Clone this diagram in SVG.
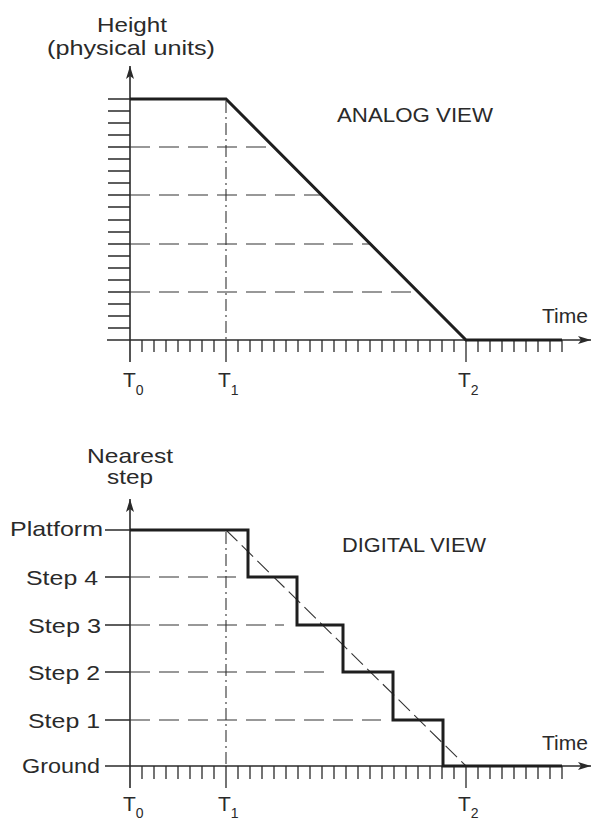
<svg xmlns="http://www.w3.org/2000/svg" width="602" height="824" viewBox="0 0 602 824">
<style>
.bg{fill:#fff}
.ax{stroke:#2a2a2a;stroke-width:1.6;fill:none}
.tk{stroke:#2a2a2a;stroke-width:1.3;fill:none}
.thick{stroke:#1e1e1e;stroke-width:3;fill:none;stroke-linejoin:miter}
.dash{stroke:#333;stroke-width:1.2;fill:none;stroke-dasharray:20 9}
.dd{stroke:#333;stroke-width:1.1;fill:none;stroke-dasharray:12 4 2 4}
.diag{stroke:#333;stroke-width:1.1;fill:none;stroke-dasharray:16 6}
text{font-family:"Liberation Sans","DejaVu Sans",sans-serif;fill:#2a2a2a}
.lab{font-size:21px}
.sub{font-size:14px}
</style>
<defs>
<marker id="arr" markerWidth="14" markerHeight="10" refX="13" refY="5" orient="auto" markerUnits="userSpaceOnUse">
<path d="M0 1 L13 5 L0 9 L3 5 Z" fill="#2a2a2a"/>
</marker>
</defs>
<rect class="bg" x="0" y="0" width="602" height="824"/>

<g id="analog-chart">
<g id="analog-axes">
<line class="ax" x1="130" y1="362" x2="130" y2="66" marker-end="url(#arr)"/>
<line class="ax" x1="107" y1="340" x2="591" y2="340" marker-end="url(#arr)"/>
<path class="tk" d="M108 99H130M108 111H130M108 123H130M108 135H130M108 147H130M108 159H130M108 171H130M108 183H130M108 195H130M108 207H130M108 220H130M108 232H130M108 244H130M108 256H130M108 268H130M108 280H130M108 292H130M108 304H130M108 316H130M108 328H130"/>
<path class="tk" d="M142 340v12M154 340v12M166 340v12M178 340v12M190 340v12M202 340v12M214 340v12M226 340v22M238 340v12M250 340v12M262 340v12M274 340v12M286 340v12M298 340v12M310 340v12M322 340v12M334 340v12M346 340v12M358 340v12M370 340v12M382 340v12M394 340v12M406 340v12M418 340v12M430 340v12M442 340v12M454 340v12M466 340v22M478 340v12M490 340v12M502 340v12M514 340v12M526 340v12M538 340v12M550 340v12M562 340v12"/>
</g>
<g id="analog-guides">
<line class="dd" x1="226" y1="101" x2="226" y2="340"/>
<path class="dash" d="M130 147H274M130 195H322M130 244H370M130 292H418"/>
</g>
<path id="analog-curve" class="thick" d="M130 99H226L466 340H562"/>
<g id="analog-labels">
<text class="lab" x="97" y="32" font-size="22" textLength="70" lengthAdjust="spacingAndGlyphs">Height</text>
<text class="lab" x="47" y="55" font-size="22" textLength="168" lengthAdjust="spacingAndGlyphs">(physical units)</text>
<text class="lab" x="337" y="122" textLength="156" lengthAdjust="spacingAndGlyphs">ANALOG VIEW</text>
<text class="lab" x="542" y="323" textLength="46" lengthAdjust="spacingAndGlyphs">Time</text>
<text class="lab" x="123" y="387">T<tspan class="sub" dy="8">0</tspan></text>
<text class="lab" x="218" y="387">T<tspan class="sub" dy="8">1</tspan></text>
<text class="lab" x="458" y="387">T<tspan class="sub" dy="8">2</tspan></text>
</g>
</g>

<g id="digital-chart">
<g id="digital-axes">
<line class="ax" x1="130" y1="788" x2="130" y2="499" marker-end="url(#arr)"/>
<line class="ax" x1="105" y1="766" x2="591" y2="766" marker-end="url(#arr)"/>
<path class="ax" d="M105 530H130M105 577H130M105 625H130M105 672H130M105 720H130"/>
<path class="tk" d="M142 766v13M154 766v13M166 766v13M178 766v13M190 766v13M202 766v13M214 766v13M226 766v22M238 766v13M250 766v13M262 766v13M274 766v13M286 766v13M298 766v13M310 766v13M322 766v13M334 766v13M346 766v13M358 766v13M370 766v13M382 766v13M394 766v13M406 766v13M418 766v13M430 766v13M442 766v13M454 766v13M466 766v22M478 766v13M490 766v13M502 766v13M514 766v13M526 766v13M538 766v13M550 766v13M562 766v13"/>
</g>
<g id="digital-guides">
<line class="dd" x1="226" y1="532" x2="226" y2="766"/>
<path class="dash" d="M130 577H236M130 625H284M130 672H333M130 720H381"/>
<line class="diag" x1="226" y1="530" x2="466" y2="766"/>
</g>
<path id="digital-steps" class="thick" d="M130 530H248V577H297V625H343V672H393V720H443V766H562"/>
<g id="digital-labels">
<text class="lab" x="87" y="463" font-size="20" textLength="86" lengthAdjust="spacingAndGlyphs">Nearest</text>
<text class="lab" x="107" y="484" font-size="20" textLength="46" lengthAdjust="spacingAndGlyphs">step</text>
<text class="lab" x="10" y="536" textLength="93" lengthAdjust="spacingAndGlyphs">Platform</text>
<text class="lab" x="26" y="585" textLength="72" lengthAdjust="spacingAndGlyphs">Step 4</text>
<text class="lab" x="28" y="633" textLength="73" lengthAdjust="spacingAndGlyphs">Step 3</text>
<text class="lab" x="28" y="680" textLength="72" lengthAdjust="spacingAndGlyphs">Step 2</text>
<text class="lab" x="28" y="728" textLength="72" lengthAdjust="spacingAndGlyphs">Step 1</text>
<text class="lab" x="22" y="773" textLength="78" lengthAdjust="spacingAndGlyphs">Ground</text>
<text class="lab" x="342" y="552" textLength="144" lengthAdjust="spacingAndGlyphs">DIGITAL VIEW</text>
<text class="lab" x="542" y="750" textLength="46" lengthAdjust="spacingAndGlyphs">Time</text>
<text class="lab" x="123" y="811">T<tspan class="sub" dy="7">0</tspan></text>
<text class="lab" x="218" y="811">T<tspan class="sub" dy="7">1</tspan></text>
<text class="lab" x="458" y="811">T<tspan class="sub" dy="7">2</tspan></text>
</g>
</g>
</svg>
